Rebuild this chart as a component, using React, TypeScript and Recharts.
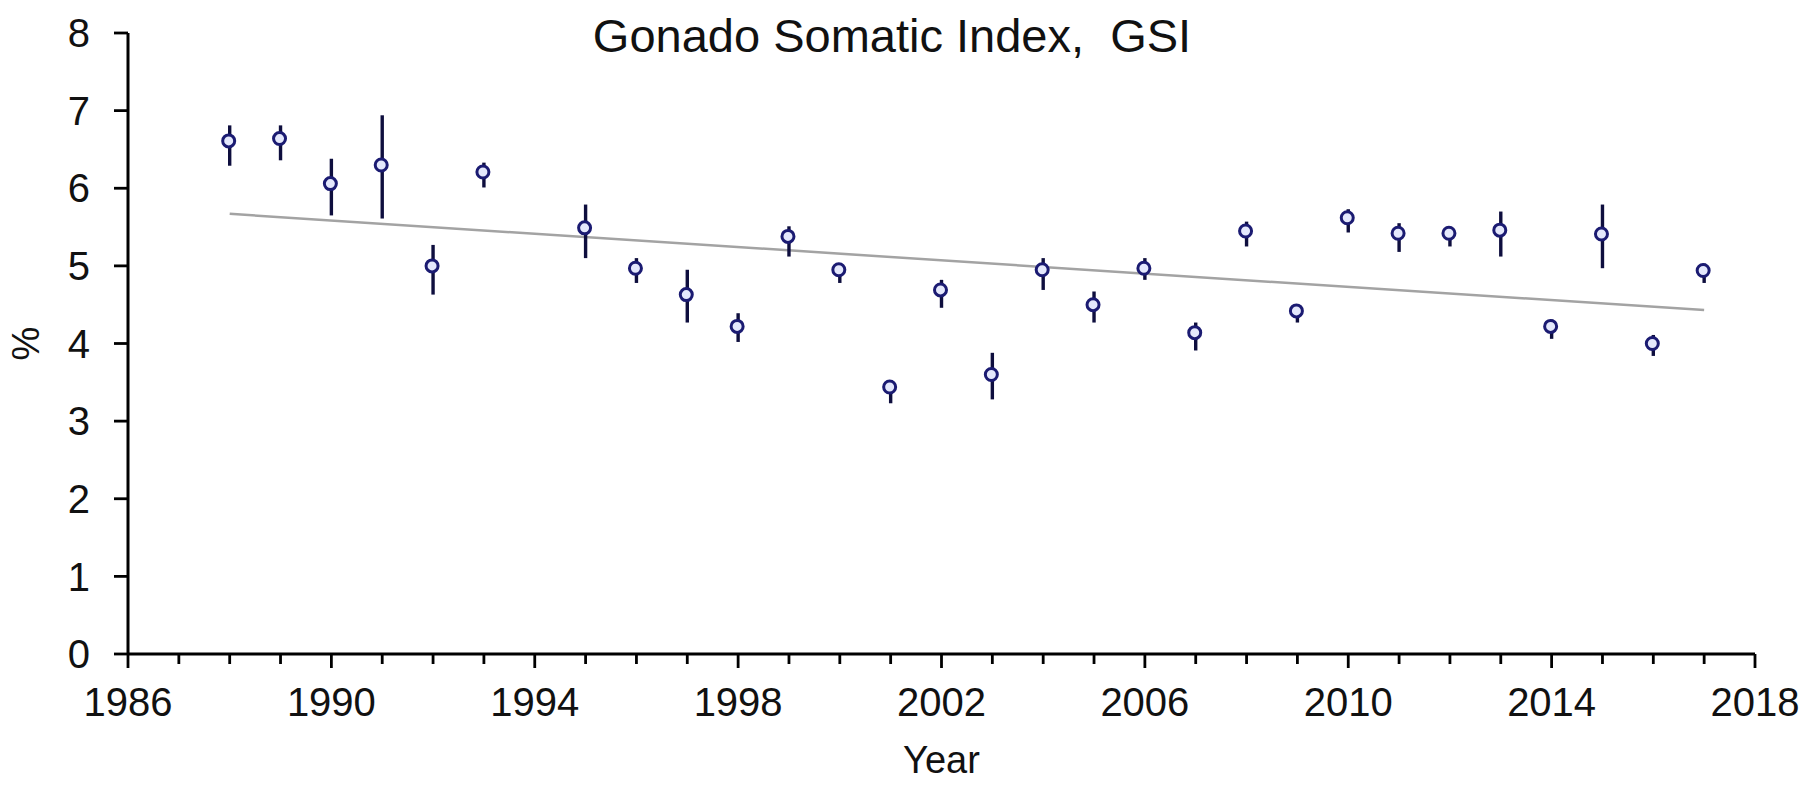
import { ComposedChart, ErrorBar, Line, Scatter, XAxis, YAxis } from "recharts";

const years = [
	1988, 1989, 1990, 1991, 1992, 1993, 1995, 1996, 1997, 1998, 1999, 2000, 2001, 2002, 2003,
	2004, 2005, 2006, 2007, 2008, 2009, 2010, 2011, 2012, 2013, 2014, 2015, 2016, 2017,
];
const gsi = [
	6.61, 6.64, 6.06, 6.3, 5.0, 6.21, 5.49, 4.97, 4.63, 4.22, 5.38, 4.95, 3.44, 4.69, 3.6,
	4.95, 4.5, 4.97, 4.14, 5.45, 4.42, 5.62, 5.42, 5.42, 5.46, 4.22, 5.41, 4.0, 4.94,
];
const gsiHigh = [
	6.81, 6.81, 6.38, 6.94, 5.27, 6.33, 5.79, 5.1, 4.95, 4.39, 5.51, 5.03, 3.53, 4.82, 3.88,
	5.1, 4.67, 5.1, 4.27, 5.57, 4.5, 5.73, 5.55, 5.5, 5.7, 4.31, 5.79, 4.11, 5.03,
];
const gsiLow = [
	6.29, 6.36, 5.65, 5.61, 4.63, 6.01, 5.1, 4.78, 4.27, 4.02, 5.12, 4.78, 3.23, 4.46, 3.28,
	4.69, 4.27, 4.82, 3.91, 5.25, 4.27, 5.43, 5.18, 5.25, 5.12, 4.06, 4.97, 3.84, 4.78,
];
// trend line end points
const trend = [
	{ year: 1988, value: 5.67 },
	{ year: 2017, value: 4.43 },
];
const xTicks = Array.from({ length: 33 }, (_, i) => 1986 + i);
const yTicks = [0, 1, 2, 3, 4, 5, 6, 7, 8];

const points = years.map((year, i) => ({
	year,
	gsi: gsi[i],
	err: [+(gsi[i] - gsiLow[i]).toFixed(2), +(gsiHigh[i] - gsi[i]).toFixed(2)],
}));

const font = "'Liberation Sans', Arial, sans-serif";

function YearTick(props: any) {
	const { x, y, payload } = props;
	const major = (payload.value - 1986) % 4 === 0;
	return (
		<g>
			<line x1={x} x2={x} y1={y} y2={y + (major ? 14 : 10)} stroke="#000" strokeWidth={2.8} />
			{major && (
				<text x={x} y={y + 34} dy="0.71em" textAnchor="middle" fill="#111" fontSize={40} fontFamily={font}>
					{payload.value}
				</text>
			)}
		</g>
	);
}

function Marker(props: any) {
	const { cx, cy } = props;
	return <circle cx={cx - 1} cy={cy} r={6} fill="#e4e8fc" stroke="#1b1b72" strokeWidth={3} />;
}

export default function App() {
	return (
		<div style={{ position: "absolute", left: 0, top: 0, width: 1807, height: 792, background: "#fff" }}>
			<div
				style={{
					position: "absolute",
					left: 592,
					top: 12,
					width: 600,
					textAlign: "center",
					fontFamily: font,
					fontSize: 47,
					lineHeight: 1,
					color: "#111",
					whiteSpace: "pre",
				}}
			>
				{"Gonado Somatic Index,  GSI"}
			</div>
			<ComposedChart width={1807} height={792} margin={{ top: 33, right: 52, left: 0, bottom: 8 }}>
				<XAxis
					dataKey="year"
					type="number"
					domain={[1986, 2018]}
					ticks={xTicks}
					interval={0}
					height={130}
					tickSize={0}
					tickMargin={0}
					tickLine={false}
					axisLine={{ stroke: "#000", strokeWidth: 3 }}
					tick={<YearTick />}
					label={{ value: "Year", position: "insideBottom", offset: 11, fontSize: 38, fontFamily: font, fill: "#111" }}
				/>
				<YAxis
					type="number"
					domain={[0, 8]}
					ticks={yTicks}
					width={128}
					tickSize={14}
					tickMargin={24}
					axisLine={{ stroke: "#000", strokeWidth: 3 }}
					tickLine={{ stroke: "#000", strokeWidth: 2.8 }}
					tick={{ fontSize: 40, fontFamily: font, fill: "#111" }}
					label={({ viewBox }: any) => {
						const cx = viewBox.x + 26;
						const cy = viewBox.y + viewBox.height / 2;
						return (
							<text
								x={cx}
								y={cy}
								transform={`rotate(-90 ${cx} ${cy})`}
								textAnchor="middle"
								dominantBaseline="central"
								fontSize={38}
								fontFamily={font}
								fill="#111"
							>
								%
							</text>
						);
					}}
				/>
				<Line
					data={trend}
					dataKey="value"
					stroke="#a3a3a3"
					strokeWidth={2.5}
					dot={false}
					activeDot={false}
					isAnimationActive={false}
				/>
				<Scatter data={points} dataKey="gsi" shape={<Marker />} isAnimationActive={false}>
					<ErrorBar dataKey="err" direction="y" width={0} stroke="#0e0e3e" strokeWidth={3.4} />
				</Scatter>
			</ComposedChart>
		</div>
	);
}
